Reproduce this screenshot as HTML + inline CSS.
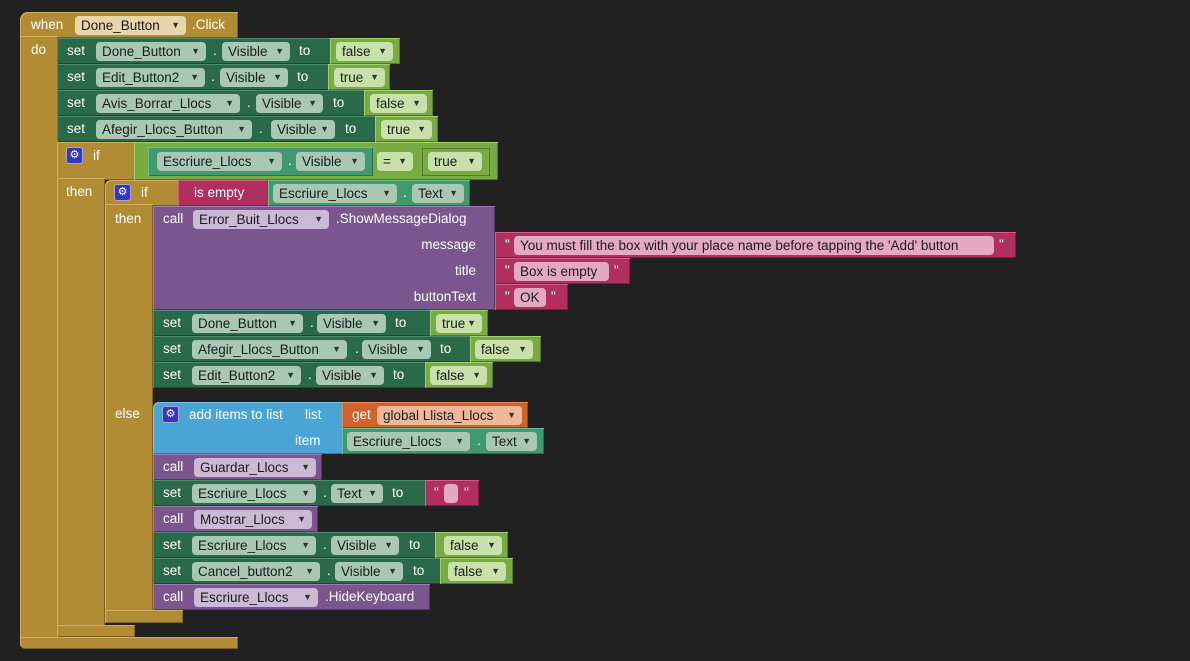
<!DOCTYPE html>
<html><head><meta charset="utf-8"><style>
body{margin:0;width:1190px;height:661px;background:#212121;position:relative;overflow:hidden;font-family:"Liberation Sans",sans-serif;font-size:13.5px}
div,span{position:absolute;box-sizing:border-box}
.g{background:#b18c34;box-shadow:inset 1px 1px 0 #cfae5f,inset -1px -1px 0 #7d6120}
.dg{background:#2a6a4a;box-shadow:inset 1px 1px 0 #4f8a6c,inset -1px -1px 0 #1a4a32}
.lg{background:#78ab42;box-shadow:inset 1px 1px 0 #a0cc70,inset -1px -1px 0 #557a2c}
.tl{background:#409a6f;box-shadow:inset 1px 1px 0 #6cbb95,inset -1px -1px 0 #2c6e4f}
.pu{background:#7a558e;box-shadow:inset 1px 1px 0 #9c7bb0,inset -1px -1px 0 #533863}
.pk{background:#b02f5f;box-shadow:inset 1px 1px 0 #d0608a,inset -1px -1px 0 #7c1f42}
.bl{background:#4aa5d6;box-shadow:inset 1px 1px 0 #7cc3ea,inset -1px -1px 0 #2d7aa3}
.or{background:#d0622c;box-shadow:inset 1px 1px 0 #ea8a5a,inset -1px -1px 0 #944217}
.t{color:#fff;line-height:18px;white-space:nowrap}
.p{height:19px;border-radius:4px;color:#1c1c1c;line-height:19px;padding-left:6px;white-space:nowrap;overflow:hidden}
.p i{font-style:normal;font-size:9px;position:absolute;right:6px;top:0;color:#333}
.pg{background:#a8c8b4}.pl{background:#c8e1aa}.pp{background:#cbb9d5}.pq{background:#e3a9c0}.po{background:#f0b89a}.pd{background:#e8d5a8}
.gear{width:17px;height:17px;background:#3535c8;border-radius:3px;border:1px solid #aab;color:#fff;font-size:11px;text-align:center;line-height:15px}
</style></head><body>
<div class="g" style="left:20px;top:12px;width:218px;height:26px;border-top-left-radius:8px"></div>
<div class="g" style="left:20px;top:36px;width:38px;height:613px;border-bottom-left-radius:6px"></div>
<div class="g" style="left:20px;top:637px;width:218px;height:12px;border-bottom-left-radius:6px"></div>
<span class="t" style="left:31px;top:16px">when</span>
<div class="p pd" style="left:75px;top:16px;width:111px">Done_Button<i>▼</i></div>
<span class="t" style="left:192px;top:16px">.Click</span>
<span class="t" style="left:31px;top:41px">do</span>

<div class="dg" style="left:57px;top:38px;width:275px;height:26px"></div>
<span class="t" style="left:67px;top:42px">set</span>
<div class="p pg" style="left:96px;top:42px;width:110px">Done_Button<i>▼</i></div>
<span class="t" style="left:213px;top:42px">.</span>
<div class="p pg" style="left:222px;top:42px;width:68px">Visible<i>▼</i></div>
<span class="t" style="left:299px;top:42px">to</span>
<div class="lg" style="left:330px;top:38px;width:70px;height:26px"></div>
<div class="p pl" style="left:336px;top:42px;width:57px">false<i>▼</i></div>

<div class="dg" style="left:57px;top:64px;width:273px;height:26px"></div>
<span class="t" style="left:67px;top:68px">set</span>
<div class="p pg" style="left:96px;top:68px;width:109px">Edit_Button2<i>▼</i></div>
<span class="t" style="left:211px;top:68px">.</span>
<div class="p pg" style="left:220px;top:68px;width:68px">Visible<i>▼</i></div>
<span class="t" style="left:297px;top:68px">to</span>
<div class="lg" style="left:328px;top:64px;width:62px;height:26px"></div>
<div class="p pl" style="left:334px;top:68px;width:51px">true<i>▼</i></div>

<div class="dg" style="left:57px;top:90px;width:309px;height:26px"></div>
<span class="t" style="left:67px;top:94px">set</span>
<div class="p pg" style="left:96px;top:94px;width:144px">Avis_Borrar_Llocs<i>▼</i></div>
<span class="t" style="left:247px;top:94px">.</span>
<div class="p pg" style="left:256px;top:94px;width:67px">Visible<i>▼</i></div>
<span class="t" style="left:333px;top:94px">to</span>
<div class="lg" style="left:364px;top:90px;width:69px;height:26px"></div>
<div class="p pl" style="left:370px;top:94px;width:57px">false<i>▼</i></div>

<div class="dg" style="left:57px;top:116px;width:320px;height:26px"></div>
<span class="t" style="left:67px;top:120px">set</span>
<div class="p pg" style="left:96px;top:120px;width:156px">Afegir_Llocs_Button<i>▼</i></div>
<span class="t" style="left:259px;top:120px">.</span>
<div class="p pg" style="left:271px;top:120px;width:64px">Visible<i>▼</i></div>
<span class="t" style="left:345px;top:120px">to</span>
<div class="lg" style="left:375px;top:116px;width:63px;height:26px"></div>
<div class="p pl" style="left:381px;top:120px;width:51px">true<i>▼</i></div>

<div class="g" style="left:57px;top:142px;width:79px;height:38px"></div>
<div class="g" style="left:57px;top:178px;width:48px;height:459px"></div>
<div class="g" style="left:57px;top:625px;width:78px;height:12px"></div>
<div class="gear" style="left:66px;top:147px">⚙</div>
<span class="t" style="left:93px;top:147px">if</span>
<div class="lg" style="left:134px;top:142px;width:364px;height:38px"></div>
<div class="tl" style="left:148px;top:147px;width:225px;height:29px"></div>
<div class="p pg" style="left:157px;top:152px;width:125px">Escriure_Llocs<i>▼</i></div>
<span class="t" style="left:288px;top:152px">.</span>
<div class="p pg" style="left:296px;top:152px;width:69px">Visible<i>▼</i></div>
<div class="p pl" style="left:377px;top:152px;width:36px">=<i>▼</i></div>
<div class="lg" style="left:422px;top:148px;width:68px;height:28px;box-shadow:inset 0 0 0 1px #557a2c"></div>
<div class="p pl" style="left:428px;top:152px;width:54px">true<i>▼</i></div>
<span class="t" style="left:66px;top:183px">then</span>

<div class="g" style="left:105px;top:180px;width:75px;height:26px;border-top-left-radius:6px"></div>
<div class="g" style="left:105px;top:204px;width:48px;height:419px"></div>
<div class="g" style="left:105px;top:610px;width:78px;height:13px"></div>
<div class="gear" style="left:114px;top:184px">⚙</div>
<span class="t" style="left:141px;top:184px">if</span>
<div class="pk" style="left:178px;top:180px;width:92px;height:26px"></div>
<span class="t" style="left:194px;top:184px">is empty</span>
<div class="tl" style="left:268px;top:180px;width:202px;height:26px"></div>
<div class="p pg" style="left:273px;top:184px;width:124px">Escriure_Llocs<i>▼</i></div>
<span class="t" style="left:403px;top:184px">.</span>
<div class="p pg" style="left:412px;top:184px;width:52px">Text<i>▼</i></div>
<span class="t" style="left:115px;top:210px">then</span>

<div class="pu" style="left:153px;top:206px;width:342px;height:104px"></div>
<span class="t" style="left:163px;top:210px">call</span>
<div class="p pp" style="left:193px;top:210px;width:136px">Error_Buit_Llocs<i>▼</i></div>
<span class="t" style="left:336px;top:210px">.ShowMessageDialog</span>
<span class="t" style="left:380px;top:236px;width:96px;text-align:right">message</span>
<span class="t" style="left:380px;top:262px;width:96px;text-align:right">title</span>
<span class="t" style="left:380px;top:288px;width:96px;text-align:right">buttonText</span>
<div class="pk" style="left:495px;top:232px;width:521px;height:26px"></div>
<span class="t" style="left:505px;top:236px">"</span>
<div class="p pq" style="left:514px;top:236px;width:480px">You must fill the box with your place name before tapping the 'Add' button</div>
<span class="t" style="left:999px;top:236px">"</span>
<div class="pk" style="left:495px;top:258px;width:135px;height:26px"></div>
<span class="t" style="left:505px;top:262px">"</span>
<div class="p pq" style="left:514px;top:262px;width:95px">Box is empty</div>
<span class="t" style="left:614px;top:262px">"</span>
<div class="pk" style="left:495px;top:284px;width:73px;height:26px"></div>
<span class="t" style="left:505px;top:288px">"</span>
<div class="p pq" style="left:514px;top:288px;width:32px">OK</div>
<span class="t" style="left:551px;top:288px">"</span>

<div class="dg" style="left:153px;top:310px;width:279px;height:26px"></div>
<span class="t" style="left:163px;top:314px">set</span>
<div class="p pg" style="left:192px;top:314px;width:111px">Done_Button<i>▼</i></div>
<span class="t" style="left:310px;top:314px">.</span>
<div class="p pg" style="left:317px;top:314px;width:69px">Visible<i>▼</i></div>
<span class="t" style="left:395px;top:314px">to</span>
<div class="lg" style="left:430px;top:310px;width:58px;height:26px"></div>
<div class="p pl" style="left:436px;top:314px;width:46px">true<i>▼</i></div>

<div class="dg" style="left:153px;top:336px;width:319px;height:26px"></div>
<span class="t" style="left:163px;top:340px">set</span>
<div class="p pg" style="left:192px;top:340px;width:155px">Afegir_Llocs_Button<i>▼</i></div>
<span class="t" style="left:355px;top:340px">.</span>
<div class="p pg" style="left:362px;top:340px;width:69px">Visible<i>▼</i></div>
<span class="t" style="left:440px;top:340px">to</span>
<div class="lg" style="left:470px;top:336px;width:71px;height:26px"></div>
<div class="p pl" style="left:475px;top:340px;width:58px">false<i>▼</i></div>

<div class="dg" style="left:153px;top:362px;width:274px;height:26px"></div>
<span class="t" style="left:163px;top:366px">set</span>
<div class="p pg" style="left:192px;top:366px;width:109px">Edit_Button2<i>▼</i></div>
<span class="t" style="left:308px;top:366px">.</span>
<div class="p pg" style="left:316px;top:366px;width:68px">Visible<i>▼</i></div>
<span class="t" style="left:393px;top:366px">to</span>
<div class="lg" style="left:425px;top:362px;width:68px;height:26px"></div>
<div class="p pl" style="left:430px;top:366px;width:57px">false<i>▼</i></div>

<span class="t" style="left:115px;top:405px">else</span>

<div class="bl" style="left:153px;top:402px;width:191px;height:52px;border-top-left-radius:6px"></div>
<div class="gear" style="left:162px;top:406px">⚙</div>
<span class="t" style="left:189px;top:406px">add items to list</span>
<span class="t" style="left:305px;top:406px">list</span>
<span class="t" style="left:295px;top:432px">item</span>
<div class="or" style="left:342px;top:402px;width:186px;height:26px"></div>
<span class="t" style="left:352px;top:406px">get</span>
<div class="p po" style="left:377px;top:406px;width:145px">global Llista_Llocs<i>▼</i></div>
<div class="tl" style="left:342px;top:428px;width:202px;height:26px"></div>
<div class="p pg" style="left:347px;top:432px;width:123px">Escriure_Llocs<i>▼</i></div>
<span class="t" style="left:477px;top:432px">.</span>
<div class="p pg" style="left:486px;top:432px;width:51px">Text<i>▼</i></div>

<div class="pu" style="left:153px;top:454px;width:169px;height:26px"></div>
<span class="t" style="left:163px;top:458px">call</span>
<div class="p pp" style="left:194px;top:458px;width:122px">Guardar_Llocs<i>▼</i></div>

<div class="dg" style="left:153px;top:480px;width:274px;height:26px"></div>
<span class="t" style="left:163px;top:484px">set</span>
<div class="p pg" style="left:192px;top:484px;width:124px">Escriure_Llocs<i>▼</i></div>
<span class="t" style="left:323px;top:484px">.</span>
<div class="p pg" style="left:331px;top:484px;width:52px">Text<i>▼</i></div>
<span class="t" style="left:392px;top:484px">to</span>
<div class="pk" style="left:425px;top:480px;width:54px;height:26px"></div>
<span class="t" style="left:434px;top:484px">"</span>
<div class="p pq" style="left:444px;top:484px;width:14px"></div>
<span class="t" style="left:464px;top:484px">"</span>

<div class="pu" style="left:153px;top:506px;width:165px;height:26px"></div>
<span class="t" style="left:163px;top:510px">call</span>
<div class="p pp" style="left:194px;top:510px;width:118px">Mostrar_Llocs<i>▼</i></div>

<div class="dg" style="left:153px;top:532px;width:284px;height:26px"></div>
<span class="t" style="left:163px;top:536px">set</span>
<div class="p pg" style="left:192px;top:536px;width:124px">Escriure_Llocs<i>▼</i></div>
<span class="t" style="left:323px;top:536px">.</span>
<div class="p pg" style="left:331px;top:536px;width:68px">Visible<i>▼</i></div>
<span class="t" style="left:409px;top:536px">to</span>
<div class="lg" style="left:435px;top:532px;width:73px;height:26px"></div>
<div class="p pl" style="left:444px;top:536px;width:58px">false<i>▼</i></div>

<div class="dg" style="left:153px;top:558px;width:289px;height:26px"></div>
<span class="t" style="left:163px;top:562px">set</span>
<div class="p pg" style="left:192px;top:562px;width:128px">Cancel_button2<i>▼</i></div>
<span class="t" style="left:327px;top:562px">.</span>
<div class="p pg" style="left:335px;top:562px;width:68px">Visible<i>▼</i></div>
<span class="t" style="left:413px;top:562px">to</span>
<div class="lg" style="left:440px;top:558px;width:73px;height:26px"></div>
<div class="p pl" style="left:448px;top:562px;width:58px">false<i>▼</i></div>

<div class="pu" style="left:153px;top:584px;width:277px;height:26px"></div>
<span class="t" style="left:163px;top:588px">call</span>
<div class="p pp" style="left:194px;top:588px;width:124px">Escriure_Llocs<i>▼</i></div>
<span class="t" style="left:325px;top:588px">.HideKeyboard</span>
</body></html>
